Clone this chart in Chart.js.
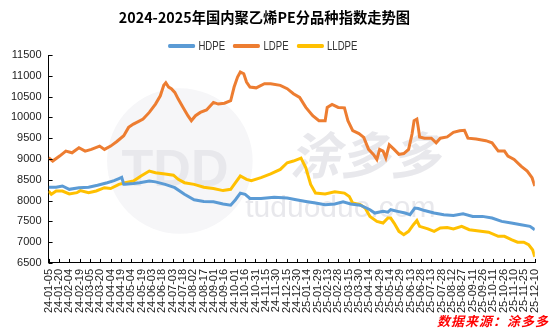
<!DOCTYPE html>
<html>
<head>
<meta charset="utf-8">
<script src="https://cdn.jsdelivr.net/npm/chart.js@4.4.0/dist/chart.umd.min.js"></script>
<style>
html,body{margin:0;padding:0;background:#fff;}
#wrap{position:relative;width:554px;height:333px;}
#title{position:absolute;left:0;top:8px;width:529px;text-align:center;font:bold 14.3px/18px "Noto Sans CJK SC";color:#000;}
#legend{position:absolute;left:168px;top:39px;display:flex;align-items:center;font:12px/14px "Liberation Sans";color:#333;transform:scaleX(0.8);transform-origin:left center;}
#legend .item{display:flex;align-items:center;margin-right:10px;}
#legend .swatch{width:34px;height:4px;border-radius:2px;margin-right:4px;}
#source{position:absolute;right:5px;bottom:3px;color:#ff0000;font:italic bold 13px "Noto Sans CJK SC";letter-spacing:1px;}
</style>
</head>
<body>
<div id="wrap">
<canvas id="peChart" width="554" height="333"></canvas>
<div id="title">2024-2025年国内聚乙烯PE分品种指数走势图</div>
<div id="legend"></div>
<div id="source">数据来源：涂多多</div>
</div>
<script>
// x positions are days counted from 2024-01-05
const tickLabels = ["24-01-05","24-01-20","24-02-04","24-02-19","24-03-05","24-03-20","24-04-04","24-04-19",
    "24-05-04","24-05-19","24-06-03","24-06-18","24-07-03","24-07-18","24-08-02","24-08-17","24-09-01",
    "24-09-16","24-10-01","24-10-16","24-10-31","24-11-15","24-11-30","24-12-15","24-12-30","25-01-14",
    "25-01-29","25-02-13","25-02-28","25-03-15","25-03-30","25-04-14","25-04-29","25-05-14","25-05-29",
    "25-06-13","25-06-28","25-07-13","25-07-28","25-08-12","25-08-27","25-09-11","25-09-26","25-10-11",
    "25-10-26","25-11-10","25-11-25","25-12-10"];

const hdpeDays = [0,11,20,30,44,58,71,85,95,102,106,109,111,123,132,146,155,169,183,197,211,225,239,253,264,
    271,278,285,292,308,327,346,359,373,387,401,415,427,438,452,466,473,485,492,496,506,517,524,531,536,545,
    559,573,587,601,615,629,643,657,671,685,698,705];
const hdpeValues = [8320,8320,8350,8270,8310,8320,8370,8430,8480,8530,8560,8390,8390,8410,8430,8470,8450,8390,
    8310,8150,8020,7980,7970,7920,7890,8020,8180,8150,8050,8050,8080,8060,8020,7980,7940,7900,7920,7970,7920,
    7890,7780,7700,7740,7720,7780,7740,7700,7660,7820,7810,7760,7700,7660,7640,7680,7620,7620,7580,7500,7460,
    7420,7380,7300];

const ldpeDays = [0,6,16,25,34,44,53,62,74,81,90,99,109,116,123,130,137,146,155,162,167,170,174,178,183,188,195,
    202,207,213,220,229,239,246,255,264,269,274,278,283,287,292,301,313,322,336,346,355,364,373,383,392,401,404,
    411,420,429,434,441,450,457,464,471,476,480,485,489,494,501,508,515,522,527,530,534,536,538,545,555,562,568,
    578,587,596,603,608,620,634,643,652,661,666,675,685,694,701,705];
const ldpeValues = [9030,8950,9070,9190,9150,9270,9190,9230,9310,9230,9310,9420,9560,9760,9840,9900,9960,10120,
    10320,10520,10770,10830,10730,10690,10600,10440,10240,10040,9920,10040,10120,10180,10360,10320,10340,10400,
    10730,10970,11090,11050,10850,10730,10710,10810,10810,10770,10690,10570,10480,10240,10040,9920,9920,10240,
    10310,10240,10230,9920,9680,9610,9520,9230,9110,8990,9230,9190,9030,9340,9230,9110,9130,9230,9600,9920,9960,
    9760,9530,9500,9500,9390,9500,9530,9640,9680,9690,9500,9480,9440,9390,9190,9190,9070,8990,8830,8710,8550,
    8350];

const lldpeDays = [0,4,11,20,30,41,46,58,69,81,90,102,111,123,134,146,155,169,181,188,197,211,225,239,253,264,271,
    278,287,294,308,322,336,346,355,366,373,380,387,401,415,429,436,441,452,459,466,476,485,492,496,501,508,515,
    522,529,534,538,550,559,568,578,587,599,610,624,638,652,661,671,680,689,696,702,705];
const lldpeValues = [8230,8150,8230,8230,8160,8190,8240,8190,8230,8310,8290,8390,8430,8470,8590,8710,8670,8640,
    8610,8510,8430,8390,8320,8290,8240,8270,8430,8590,8510,8480,8550,8640,8750,8910,8950,9020,8790,8390,8180,
    8160,8210,8180,8100,7940,7900,7820,7620,7500,7460,7580,7580,7460,7260,7180,7260,7420,7520,7380,7320,7260,
    7340,7350,7320,7380,7300,7270,7240,7140,7140,7060,7000,7000,6940,6810,6650];

const yMin = 6500, yMax = 11500, yStep = 500;
const dayStep = 15;

function toPoints(days, values) {
    return days.map((d, i) => ({ x: d, y: values[i] }));
}

// Excel-style tick marks that point into the plot
const insideTicks = {
    id: 'insideTicks',
    afterDraw(chart) {
        const { ctx, chartArea, scales: { x, y } } = chart;
        ctx.save();
        ctx.strokeStyle = '#000';
        ctx.lineWidth = 1;
        ctx.beginPath();
        x.ticks.forEach(t => {
            const px = Math.round(x.getPixelForValue(t.value)) + 0.5;
            ctx.moveTo(px, chartArea.bottom);
            ctx.lineTo(px, chartArea.bottom - 4);
        });
        y.ticks.forEach(t => {
            const py = Math.round(y.getPixelForValue(t.value)) + 0.5;
            ctx.moveTo(chartArea.left, py);
            ctx.lineTo(chartArea.left + 4, py);
        });
        ctx.stroke();
        ctx.restore();
    }
};

// faint brand watermark behind the lines
const watermark = {
    id: 'watermark',
    beforeDatasetsDraw(chart) {
        const { ctx, chartArea: a } = chart;
        const w = a.right - a.left, h = a.bottom - a.top;
        ctx.save();
        ctx.fillStyle = '#f6f6f8';
        ctx.beginPath();
        ctx.arc(a.left + w * 0.27, a.top + h * 0.51, h * 0.35, 0, Math.PI * 2);
        ctx.fill();
        ctx.fillStyle = '#e8e8ec';
        ctx.textAlign = 'center';
        ctx.textBaseline = 'middle';
        ctx.font = 'bold 52px "Liberation Sans"';
        ctx.fillText('TDD', a.left + w * 0.26, a.top + h * 0.56);
        ctx.font = 'italic bold 50px "Noto Sans CJK SC"';
        ctx.fillText('涂多多', a.left + w * 0.65, a.top + h * 0.48);
        ctx.font = '30px "Liberation Sans"';
        ctx.fillText('tuduoduo.com', a.left + w * 0.6, a.top + h * 0.74);
        ctx.restore();
    }
};

const lineStyle = { borderWidth: 3, pointRadius: 0, tension: 0, fill: false };

const chart = new Chart(document.getElementById('peChart'), {
    type: 'line',
    data: {
        datasets: [
            { label: 'HDPE', data: toPoints(hdpeDays, hdpeValues), borderColor: '#5b9bd5', backgroundColor: '#5b9bd5', ...lineStyle },
            { label: 'LDPE', data: toPoints(ldpeDays, ldpeValues), borderColor: '#ed7d31', backgroundColor: '#ed7d31', ...lineStyle },
            { label: 'LLDPE', data: toPoints(lldpeDays, lldpeValues), borderColor: '#ffc000', backgroundColor: '#ffc000', ...lineStyle }
        ]
    },
    options: {
        responsive: false,
        animation: false,
        layout: { padding: { left: 4, right: 0, top: 55, bottom: 14 } },
        plugins: {
            title: { display: false },
            legend: { display: false },
            tooltip: { enabled: false }
        },
        scales: {
            x: {
                type: 'linear',
                min: 0, max: 705,
                grid: { display: false, drawTicks: false },
                border: { display: true, color: '#000', width: 1 },
                ticks: {
                    stepSize: dayStep, autoSkip: false, minRotation: 90, maxRotation: 90, padding: 6,
                    color: '#222', font: { family: '"Liberation Sans"', size: 11 },
                    callback: (v, i) => tickLabels[i]
                }
            },
            y: {
                min: yMin, max: yMax,
                grid: { display: false, drawTicks: false },
                border: { display: true, color: '#000', width: 1 },
                ticks: {
                    stepSize: yStep, padding: 7, color: '#222', font: { family: '"Liberation Sans"', size: 11 },
                    callback: v => String(v)
                }
            }
        },
    },
    plugins: [watermark, insideTicks]
});

// legend built from the datasets
const legendEl = document.getElementById('legend');
chart.data.datasets.forEach(ds => {
    const item = document.createElement('div');
    item.className = 'item';
    const sw = document.createElement('span');
    sw.className = 'swatch';
    sw.style.background = ds.borderColor;
    const txt = document.createElement('span');
    txt.textContent = ds.label;
    item.append(sw, txt);
    legendEl.append(item);
});
</script>
</body>
</html>
